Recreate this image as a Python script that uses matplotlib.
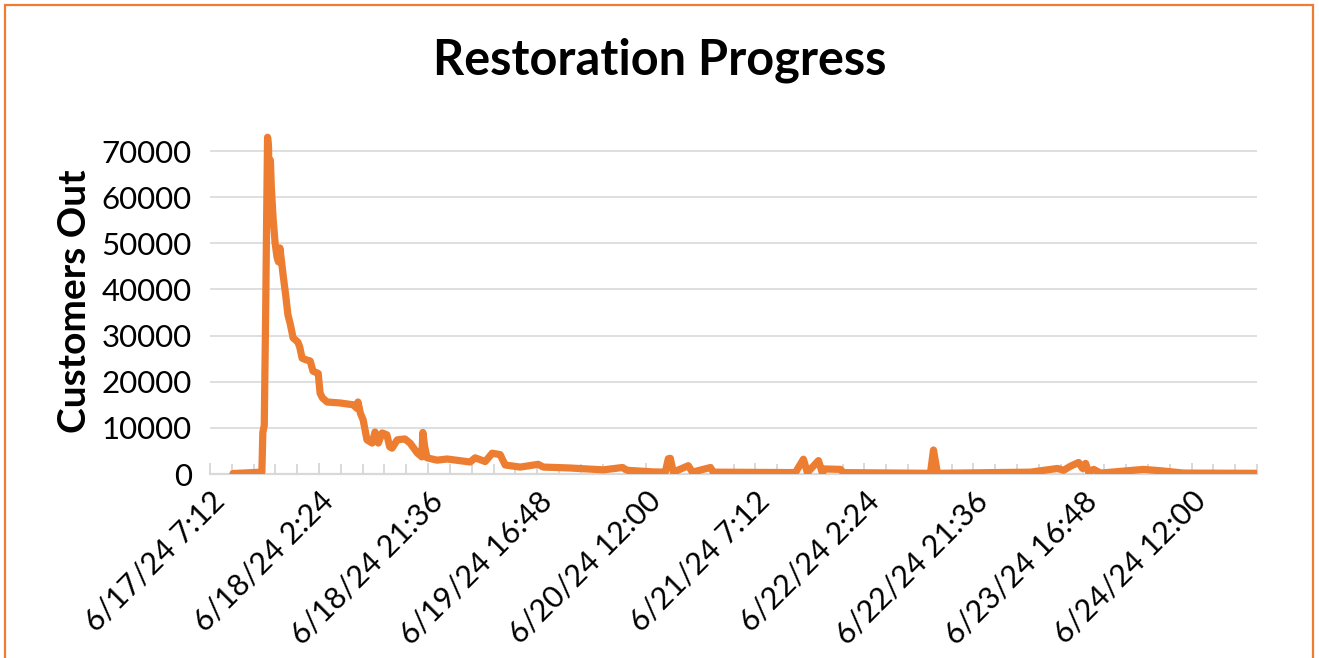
import matplotlib
matplotlib.use("Agg")
import matplotlib.pyplot as plt
import matplotlib.dates as mdates
from matplotlib.patches import Rectangle
from matplotlib.ticker import FixedLocator, FuncFormatter
import pandas as pd
from datetime import datetime

# -------------------------------
# Datos
# -------------------------------
times = [
    "6/17/24 11:15", "6/17/24 16:20", "6/17/24 16:30", "6/17/24 16:45", "6/17/24 17:00",
    "6/17/24 17:10", "6/17/24 17:20", "6/17/24 17:30", "6/17/24 17:40", "6/17/24 17:50",
    "6/17/24 18:00", "6/17/24 18:20", "6/17/24 18:40", "6/17/24 19:00", "6/17/24 19:15",
    "6/17/24 19:30", "6/17/24 19:45", "6/17/24 20:05", "6/17/24 20:30", "6/17/24 20:55",
    "6/17/24 21:20", "6/17/24 21:50", "6/17/24 22:40", "6/17/24 23:00", "6/17/24 23:25",
    "6/18/24 0:00", "6/18/24 0:50", "6/18/24 1:20", "6/18/24 2:15", "6/18/24 2:35",
    "6/18/24 3:00", "6/18/24 3:50", "6/18/24 6:05", "6/18/24 8:25", "6/18/24 9:05",
    "6/18/24 9:15", "6/18/24 9:40", "6/18/24 10:10", "6/18/24 10:50", "6/18/24 11:45",
    "6/18/24 12:15", "6/18/24 12:50", "6/18/24 13:30", "6/18/24 14:20", "6/18/24 14:50",
    "6/18/24 15:15", "6/18/24 16:10", "6/18/24 17:30", "6/18/24 18:25", "6/18/24 19:40",
    "6/18/24 20:30", "6/18/24 20:40", "6/18/24 21:00", "6/18/24 21:25", "6/18/24 23:10",
    "6/19/24 0:57", "6/19/24 5:00", "6/19/24 5:53", "6/19/24 7:39", "6/19/24 8:53",
    "6/19/24 10:17", "6/19/24 11:10", "6/19/24 13:49", "6/19/24 16:59", "6/19/24 17:52",
    "6/19/24 22:37", "6/20/24 4:26", "6/20/24 7:47", "6/20/24 8:40", "6/20/24 13:14",
    "6/20/24 15:21", "6/20/24 15:53", "6/20/24 16:14", "6/20/24 16:46", "6/20/24 19:24",
    "6/20/24 20:07", "6/20/24 23:17", "6/20/24 23:49", "6/21/24 14:15", "6/21/24 15:40",
    "6/21/24 16:22", "6/21/24 18:19", "6/21/24 19:01", "6/21/24 19:12", "6/21/24 22:11",
    "6/21/24 22:43", "6/22/24 14:02", "6/22/24 14:34", "6/22/24 15:16", "6/23/24 7:39",
    "6/23/24 12:25", "6/23/24 13:28", "6/23/24 14:42", "6/23/24 16:07", "6/23/24 16:49",
    "6/23/24 17:21", "6/23/24 17:53", "6/23/24 18:46", "6/23/24 19:59", "6/24/24 3:34",
    "6/24/24 6:34", "6/24/24 10:37", "6/24/24 23:18",
]
customers_out = [
    100, 400, 9000, 10500, 35000,
    55000, 73000, 71000, 58000, 68000,
    62000, 55000, 50000, 47000, 46000,
    49000, 46500, 43000, 39000, 34500,
    32500, 29500, 28600, 27500, 25100,
    24800, 24500, 22300, 21800, 17500,
    16500, 15600, 15400, 15000, 14200,
    15600, 13200, 11700, 7400, 6700,
    9100, 6700, 8900, 8500, 5900,
    5600, 7400, 7600, 6700, 4600,
    3700, 9000, 5900, 3500, 3000,
    3250, 2600, 3500, 2700, 4500,
    4200, 1950, 1500, 2100, 1500,
    1300, 900, 1400, 800, 450,
    400, 3300, 3400, 400, 1800,
    400, 1400, 400, 300, 3200,
    300, 2900, 200, 1100, 1000,
    300, 150, 5200, 150, 400,
    1200, 800, 1700, 2500, 1200,
    2300, 400, 1000, 200, 1000,
    700, 200, 150,
]

# Eje x: inicio, unidad mayor (19.2 h) y menor
x_start = datetime(2024, 6, 17, 7, 12)
major_unit_days = 0.8
minor_unit_days = 0.16
n_minor = 48
y_ticks = [0, 10000, 20000, 30000, 40000, 50000, 60000, 70000]

ORANGE = "#ED7D31"
GRID = "#D9D9D9"
FONT = ["Lato", "DejaVu Sans"]


def fmt_date(x, pos=None):
    d = mdates.num2date(x)
    return f"{d.month}/{d.day}/{d.strftime('%y')} {d.hour}:{d.minute:02d}"


# -------------------------------
# Graficar
# -------------------------------
plt.rcParams["font.family"] = FONT
fig = plt.figure(figsize=(13.19, 6.58), dpi=100)
ax = fig.add_axes([210 / 1319, 1 - 474 / 658, 1047 / 1319, (474 - 128) / 658])

dates = pd.to_datetime(times, format="%m/%d/%y %H:%M")
ax.plot(dates, customers_out, color=ORANGE, lw=5.2,
        solid_joinstyle="round", solid_capstyle="round", zorder=3)

x0 = mdates.date2num(x_start)
ax.set_xlim(x0, x0 + n_minor * minor_unit_days)
ax.set_ylim(0, 75000)

majors = [x0 + k * major_unit_days for k in range(10)]
minors = [x0 + k * minor_unit_days for k in range(n_minor + 1)]
ax.xaxis.set_major_locator(FixedLocator(majors))
ax.xaxis.set_minor_locator(FixedLocator(minors))
ax.xaxis.set_major_formatter(FuncFormatter(fmt_date))
ax.set_yticks(y_ticks)
ax.set_yticklabels([str(v) for v in y_ticks])

ax.grid(axis="y", color=GRID, lw=1.2, zorder=0)
for s in ["top", "right", "left"]:
    ax.spines[s].set_visible(False)
ax.spines["bottom"].set_color(GRID)
ax.spines["bottom"].set_linewidth(1.6)

ax.tick_params(axis="y", length=0, pad=13, labelsize=22.5)
ax.tick_params(axis="x", which="major", direction="in", length=8, width=1.4,
               color=GRID, labelsize=22, pad=9)
ax.tick_params(axis="x", which="minor", direction="in", length=7, width=1.4, color=GRID)
for lbl in ax.get_xticklabels():
    lbl.set_rotation(45)
    lbl.set_ha("right")
    lbl.set_va("top")
    lbl.set_rotation_mode("anchor")

ax.set_ylabel("Customers Out", fontsize=28, fontweight="bold", labelpad=7)
fig.text(660 / 1319, 1 - 60 / 658, "Restoration Progress", ha="center", va="center",
         fontsize=35, fontweight="bold")

# Borde naranja del area del grafico
fig.patches.append(Rectangle((5 / 1319, -0.05), 1308 / 1319, 1.05 - 5 / 658,
                             transform=fig.transFigure, fill=False,
                             edgecolor=ORANGE, lw=1.6))

fig.savefig("out.png", dpi=100)
